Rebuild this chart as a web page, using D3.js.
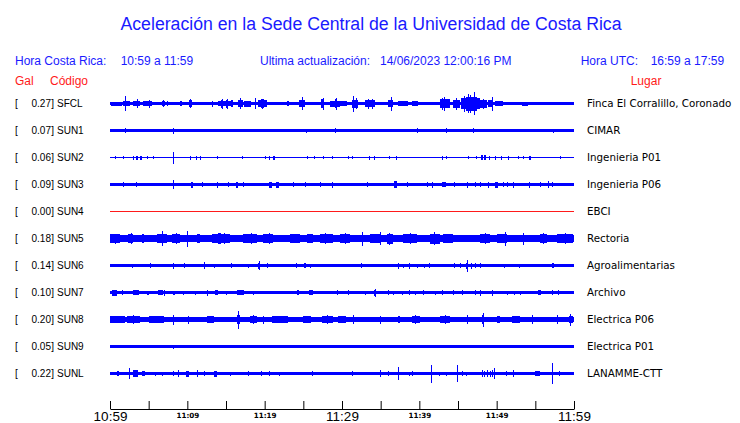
<!DOCTYPE html>
<html><head><meta charset="utf-8">
<script src="https://cdn.jsdelivr.net/npm/d3@7"></script>
<style>html,body{margin:0;padding:0;background:#fff;} svg{display:block;}</style>
</head><body><svg id="c" width="740" height="423"></svg>
<script>
// ---------- data ----------
const codes = ["SFCL","SUN1","SUN2","SUN3","SUN4","SUN5","SUN6","SUN7","SUN8","SUN9","SUNL"];
const galValues = [0.27,0.07,0.06,0.09,0.00,0.18,0.14,0.10,0.20,0.05,0.22];
const places = ["Finca El Corralillo, Coronado","CIMAR","Ingenieria P01","Ingenieria P06","EBCI","Rectoria","Agroalimentarias","Archivo","Electrica P06","Electrica P01","LANAMME-CTT"];
// background noise level of each trace (relative amplitude)
const baseLevel = [1.5,1.5,0.5,1.8,0.5,3.4,1.7,1.5,2.6,1.4,1.7];
const tickMinutes = [0,5,10,15,20,25,30,35,40,45,50,55,60];
const tickLabels = ["10:59","","11:09","","11:19","","11:29","","11:39","","11:49","","11:59"];
// events: [from minute, to minute, relative half amplitude]
const evSFCL = [[0.13,1.51,2.0],[1.72,2.59,2.6],[1.94,1.94,7.5],[3.02,3.88,2.6],[3.5,3.5,4.5],[4.31,5.39,2.6],[5.0,5.0,4],[6.68,7.11,2.8],[6.9,6.9,3.8],[7.33,7.54,2.2],[9.05,9.27,2.2],[10.21,10.65,3.2],[10.4,10.4,4.2],[13.15,13.36,3],[14.01,15.95,2.8],[14.35,14.66,4],[14.5,14.5,5],[14.96,15.22,4],[15.1,15.1,5],[15.65,15.95,3.3],[16.6,17.24,3.5],[16.85,16.85,5.5],[17.37,18.23,3],[18.75,18.75,5.5],[19.18,20.26,3.3],[19.5,19.9,4.2],[19.7,19.7,5],[22.85,23.15,2.6],[24.48,25.22,3.5],[24.8,24.8,6.5],[27.28,27.67,4.5],[27.5,27.5,6],[28.45,29.74,3],[29.1,29.3,4.5],[29.2,29.2,6],[29.74,30.6,2.5],[31.25,32.11,4],[31.46,31.46,8],[31.8,31.8,5.5],[32.97,34.27,3.6],[33.3,33.3,5],[33.9,33.9,5],[36.0,36.64,3.6],[36.29,36.29,7],[37.28,38.58,2.8],[39.0,39.87,2.5],[42.67,43.96,4.5],[42.9,42.9,6],[43.2,43.2,7],[44.4,45.26,4],[44.8,44.8,6],[45.34,47.84,5.5],[46.0,47.4,7],[45.8,45.8,8],[46.3,46.3,9.5],[46.6,46.7,9],[47.11,47.11,11.5],[47.84,48.7,4],[48.2,48.2,5],[48.92,49.57,3.2],[49.35,49.35,7],[49.78,50.86,2.2],[52.15,52.58,1.8],[53.23,54.09,2],[55.6,56.03,1.8],[56.9,57.76,1.8],[58.4,59.91,1.8]];
const evSUN1 = [[1.9,2.1,2.2],[1.98,1.98,2.5],[8.2,8.2,3],[25.3,25.3,2],[29.1,29.1,2.5],[39.65,39.65,2.5],[43.45,43.45,2.5],[46.9,46.9,2.5],[57.3,57.3,2]];
const evSUN2 = [[0.65,0.75,1.7],[1.7,1.7,1.5],[3.0,3.1,2],[3.3,3.6,2],[3.9,4.1,2],[4.8,4.8,1.5],[5.6,5.6,1.5],[8.2,8.2,6],[10.4,10.4,2],[11.1,11.1,2],[11.6,11.6,2],[13.9,13.9,1.5],[17.1,17.1,1.7],[20.0,20.0,1.5],[20.5,20.6,2],[21.1,21.3,2],[25.5,25.5,1.7],[26.4,26.4,1.5],[27.6,27.6,1.7],[28.7,28.7,1.7],[30.8,30.8,1.5],[31.3,31.3,1.5],[33.5,33.6,2],[34.1,34.2,2],[36.1,36.1,1.5],[37.0,37.1,2],[42.9,42.9,2],[43.4,43.4,1.7],[46.3,46.3,1.5],[47.3,47.3,1.5],[48.0,48.2,2.2],[48.4,48.6,2.5],[49.0,49.0,2],[49.8,49.8,2],[50.5,50.7,2],[51.5,51.5,2],[52.8,52.8,1.5],[53.4,53.4,1.5],[54.2,54.4,2],[58.2,58.2,1.5]];
const evSUN3 = [[1.7,1.7,2.5],[3.3,3.5,2.8],[8.2,8.2,4.3],[10.5,10.7,3],[11.9,11.9,2.5],[13.9,14.0,3],[15.3,15.3,2.5],[16.3,16.5,3],[17.2,17.2,2.8],[20.6,20.9,3],[21.5,21.8,3],[23.7,23.7,2.5],[25.2,25.2,2.3],[27.2,27.2,2.5],[28.7,28.7,3],[33.2,33.2,2.5],[36.7,37.1,3.5],[38.4,38.4,2.5],[41.0,41.0,2.3],[41.7,41.7,3],[42.9,43.4,2.7],[44.5,44.5,2.5],[46.1,46.1,3],[47.2,47.2,2.5],[47.9,47.9,2.8],[48.9,48.9,3],[49.8,50.2,3],[50.8,50.8,2.5],[51.4,51.4,2.5],[52.1,52.1,3],[54.2,54.2,3],[55.6,55.6,2.3],[56.6,56.8,3.3],[57.1,57.1,2.5]];
const evSUN4 = [];
const evSUN5 = [[0,1.29,4.2],[0.6,0.6,5],[2.37,3.02,4.4],[2.7,2.7,5.5],[4.2,4.4,4.2],[6.03,7.33,4.4],[6.77,6.77,7.5],[7.97,9.05,4.5],[8.5,8.5,5.5],[9.91,9.91,8],[11.21,11.64,4.2],[13.15,15.52,4.6],[14.0,14.3,5.3],[14.8,14.8,5.8],[17.24,18.97,4.3],[18.2,18.2,5.2],[19.83,21.12,4.3],[20.5,20.5,5.2],[23.28,24.57,4.2],[25.43,26.29,4.1],[27.16,28.88,4.7],[27.8,27.8,5.8],[29.74,31.03,4.5],[30.4,30.4,5.5],[32.54,32.54,7],[33.62,34.91,4.5],[34.91,34.91,6.2],[35.77,36.64,5],[36.1,36.1,6],[37.93,39.65,4.5],[38.8,38.8,5.5],[41.38,42.67,5],[41.9,41.9,6.2],[43.1,44.4,4.5],[47.84,49.14,4.5],[48.5,48.5,5.5],[50.0,51.29,4.8],[51.08,51.08,7],[53.45,53.45,6],[55.6,56.47,4.8],[56.0,56.0,5.8],[57.76,59.91,4.5],[58.8,58.8,5.5]];
const evSUN6 = [[2.8,2.8,2],[5.2,5.2,2.5],[8.2,8.3,3],[9.6,9.6,2.5],[12.1,12.1,3.5],[13.4,13.4,2],[15.7,15.7,2.5],[17.9,17.9,2],[19.2,19.4,3],[19.3,19.3,4.5],[20.3,20.3,2.5],[24.1,24.1,2.5],[25.1,25.3,2.5],[25.9,25.9,2],[32.4,32.4,2.5],[36.4,36.4,1.8],[37.2,37.2,3],[37.9,37.9,2],[38.7,38.7,3],[39.7,39.7,2],[40.6,40.6,2],[41.2,41.2,2.5],[44.5,44.5,2.5],[45.3,45.3,2.5],[46.0,46.3,3],[46.1,46.1,6],[46.7,46.7,3],[47.2,47.2,2.5],[47.8,47.8,2.5],[50.9,50.9,2],[52.9,52.9,2],[57.2,57.4,2.5]];
const evSUN7 = [[0.2,0.9,3],[1.5,1.5,2.5],[3.0,3.8,2.5],[4.8,5.1,2],[6.2,6.9,2.5],[7.0,7.0,3],[8.1,8.4,2],[9.5,9.5,2],[11.0,11.0,2],[12.5,12.6,3],[13.6,14.0,2.5],[15.0,15.0,2],[16.4,17.3,2.5],[18.5,18.5,2],[23.3,23.3,1.8],[24.2,24.5,2.5],[25.7,26.3,2.5],[29.3,29.3,2.5],[30.8,30.8,2.5],[33.0,33.0,2],[34.1,34.4,3],[34.3,34.3,4],[36.0,36.0,2.5],[36.6,36.6,2],[37.7,37.7,2],[38.6,38.6,2.5],[39.4,39.4,2],[40.5,40.5,2.5],[42.0,42.0,2],[42.9,42.9,2.5],[44.4,44.4,2.5],[45.5,45.5,2.5],[47.2,47.2,2.5],[47.8,47.8,3],[49.4,49.4,3],[51.3,51.3,2],[52.2,52.2,2],[53.0,53.0,2],[55.4,55.7,2.5],[57.1,57.1,2.5],[57.9,57.9,2.5]];
const evSUN8 = [[0,2,3.2],[2.15,3.88,3.8],[3.0,3.0,4.8],[5,7,3.2],[8.19,8.19,5],[10.13,10.13,4],[12.5,13.4,3.5],[16.4,16.8,4.5],[16.6,16.6,9],[18.1,19.0,3.8],[18.5,18.5,4.8],[19.83,19.83,4],[21,23,3.1],[25,26,3.1],[27.4,28.9,3.5],[28.0,28.0,4.5],[29.5,30.5,3.3],[31.46,31.46,4.5],[34.91,34.91,4],[37.3,37.5,3.8],[39.0,40.1,3.8],[39.5,39.5,4.8],[42.67,43.96,3.5],[43.3,43.3,4.5],[46.12,46.12,4.5],[48.06,48.36,4.5],[48.2,48.2,7],[50.0,50.43,3.6],[52,53,3.2],[54.53,54.53,4.5],[57.76,57.76,4.5],[59.3,59.9,3.8],[59.48,59.48,6]];
const evSUN9 = [[1.29,1.29,1.8],[2.0,2.0,1.7],[3.66,3.66,1.8],[5.0,5.0,1.7],[6.25,6.25,1.8],[8.19,8.19,2],[10.13,10.13,1.8],[12.28,12.28,1.8],[14.87,14.87,1.7],[17.89,17.89,1.8],[20.9,20.9,1.8],[25.22,25.22,1.8],[29.1,29.1,1.8],[31.0,31.0,1.8],[34.05,34.05,1.8],[36.64,36.64,1.8],[39.65,39.65,1.8],[41.38,41.38,1.8],[43.96,43.96,1.8],[46.98,46.98,1.8],[49.57,49.57,1.8],[52.58,52.58,1.8],[55.6,55.6,1.8],[58.62,58.62,1.8]];
const evSUNL = [[0.9,1.1,2.5],[2.4,2.4,5.8],[3.0,3.6,3.5],[4.1,4.5,2.5],[5.8,5.8,2],[6.7,6.7,2],[8.2,8.2,2.5],[8.8,8.8,3.5],[9.8,10.2,3],[11.2,11.2,3.5],[12.1,12.1,2.5],[13.5,13.9,3],[15.5,15.5,2],[17.9,17.9,2.5],[19.5,19.5,2.5],[20.5,20.5,2.5],[21.8,21.8,2],[26.1,26.1,2.5],[31.3,31.3,2.5],[34.9,34.9,3.5],[36.0,36.0,2.5],[37.2,37.2,6.5],[38.6,38.6,2],[39.1,39.1,2.5],[41.5,41.5,9],[42.6,42.6,2],[43.4,43.4,2],[44.9,44.9,8.5],[45.5,45.5,2.5],[46.0,46.0,2],[48.1,48.1,3.5],[48.4,48.5,3],[48.8,48.8,3.5],[49.1,49.2,3],[49.4,49.4,3.5],[49.7,49.7,5.5],[51.2,51.2,2.5],[52.1,52.1,3.5],[55.0,55.6,2.5],[57.2,57.2,10.5],[58.1,58.1,2.5]];
const events = [evSFCL,evSUN1,evSUN2,evSUN3,evSUN4,evSUN5,evSUN6,evSUN7,evSUN8,evSUN9,evSUNL];

// ---------- drawing ----------
const BLUE = "#1a1aff", RED = "#ff1a1a", TRACE = "#0000ff";
const SANS = "'Liberation Sans', Arial, Helvetica, sans-serif";
const svg = d3.select("#c");
const x = d3.scaleLinear().domain([0,60]).range([110,574]);
const y = d3.scalePoint().domain(codes).range([103.5,373.5]);
const amp = d3.scaleLinear().domain([0,12]).range([0,12]);

svg.append("rect").attr("width",740).attr("height",423).attr("fill","#fff");

svg.append("text").attr("x",371).attr("y",30).attr("text-anchor","middle")
  .attr("font-family",SANS).attr("font-size",18).attr("fill",BLUE)
  .attr("textLength",501).attr("lengthAdjust","spacingAndGlyphs")
  .text("Aceleración en la Sede Central de la Universidad de Costa Rica");

const header = [
  ["Hora Costa Rica:",15],["10:59 a 11:59",120.7],["Ultima actualización:",260],
  ["14/06/2023 12:00:16 PM",380],["Hora UTC:",580.7],["16:59 a 17:59",650.7]
];
svg.append("g").selectAll("text").data(header).join("text")
  .attr("x",d=>d[1]).attr("y",65).attr("font-family",SANS).attr("font-size",12)
  .attr("fill",BLUE).text(d=>d[0]);

const redHead = [["Gal",15],["Código",50],["Lugar",630.7]];
svg.append("g").selectAll("text").data(redHead).join("text")
  .attr("x",d=>d[1]).attr("y",85).attr("font-family",SANS).attr("font-size",12)
  .attr("fill",RED).text(d=>d[0]);

// left labels
const lg = svg.append("g").attr("font-family",SANS).attr("font-size",10).attr("fill","#000");
codes.forEach((c,i)=>{
  const by = y(c)+3.8;
  lg.append("text").attr("x",15).attr("y",by).text("[");
  lg.append("text").attr("x",51).attr("y",by).attr("text-anchor","end").text(galValues[i].toFixed(2));
  lg.append("text").attr("x",51.3).attr("y",by).text("]");
  lg.append("text").attr("x",57).attr("y",by).text(c);
});
// right labels
svg.append("g").selectAll("text").data(places).join("text")
  .attr("x",587).attr("y",(d,i)=>y(codes[i])+3.5)
  .attr("font-family","'DejaVu Sans', sans-serif").attr("font-size",10.3).attr("fill","#000")
  .text(d=>d);

// traces
codes.forEach((c,i)=>{
  const cy = y(c);
  const col = galValues[i]===0 ? RED : TRACE;
  const g = svg.append("g").attr("shape-rendering","crispEdges").attr("fill",col);
  g.append("rect").attr("x",x(0)).attr("width",x(60)-x(0))
    .attr("y",cy-amp(baseLevel[i])).attr("height",2*amp(baseLevel[i]));
  g.selectAll("rect.ev").data(events[i]).join("rect").attr("class","ev")
    .attr("x",d=>x(d[0])).attr("width",d=>Math.max(1,x(d[1])-x(d[0])))
    .attr("y",d=>cy-amp(d[2])).attr("height",d=>2*amp(d[2]));
});

// time axis
const axis = d3.axisBottom(x).tickValues(tickMinutes).tickSizeInner(-8).tickSizeOuter(0)
  .tickPadding(0).tickFormat((d,i)=>tickLabels[i]);
const ag = svg.append("g").attr("transform","translate(0,409)").call(axis);
ag.select(".domain").attr("stroke","#000");
ag.selectAll(".tick line").attr("stroke","#000");
ag.selectAll(".tick text").attr("fill","#000").attr("dy",null).each(function(d,i){
  const big = (i % 6 === 0);
  d3.select(this).attr("y", big ? 11.6 : 8.7)
    .attr("font-size", big ? 13.5 : 7.2)
    .attr("font-weight", big ? "normal" : "bold")
    .attr("font-family", big ? SANS : "'DejaVu Sans', sans-serif");
});
</script></body></html>
